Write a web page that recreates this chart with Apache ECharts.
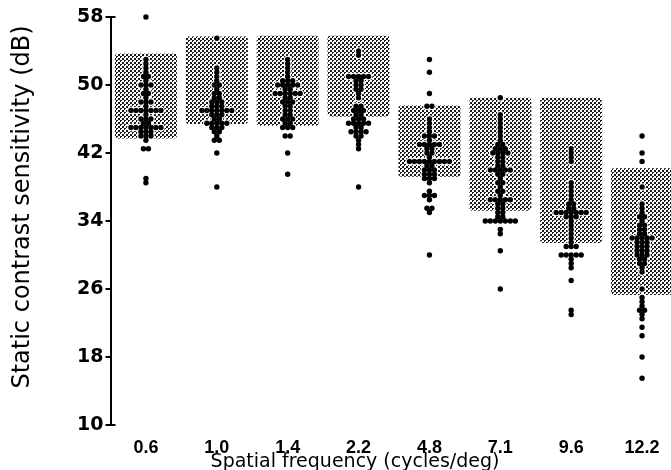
<!DOCTYPE html>
<html>
<head>
<meta charset="utf-8">
<script src="https://cdn.jsdelivr.net/npm/echarts@6/dist/echarts.min.js"></script>
<style>html,body{margin:0;padding:0;background:#fff}#c{width:671px;height:470px}</style>
</head>
<body>
<div id="c"></div>
<script>
// ---- data ----
const categories = ['0.6', '1.0', '1.4', '2.2', '4.8', '7.1', '9.6', '12.2'];
const yTicks = [10, 18, 26, 34, 42, 50, 58];
// shaded normal-range boxes (dB)
const boxLow  = [43.7, 45.4, 45.2, 46.3, 39.2, 35.2, 31.4, 25.3];
const boxHigh = [53.7, 55.7, 55.8, 55.8, 47.6, 48.5, 48.5, 40.2];
// individual sensitivities (dB), one entry per dot
const sf06 = [58, 53, 52.5, 52, 51.5, 51, 51, 50.5, 50, 50, 50, 49.5, 49, 49, 48.5, 48, 48, 48, 47.5,
  47, 47, 47, 47, 47, 47, 47, 46.5, 46, 46, 46, 45.5, 45.5, 45, 45, 45, 45, 45, 45, 45,
  44.5, 44.5, 44.5, 44, 44, 44, 43.5, 42.5, 42.5, 39, 38.5];
const sf10 = [55.5, 52, 51.5, 51, 50.5, 50, 50, 49.5, 49, 49, 48.5, 48.5, 48, 48, 48, 47.5, 47.5, 47.5,
  47, 47, 47, 47, 47, 47, 47, 46.5, 46.5, 46.5, 46, 46, 45.5, 45.5, 45.5, 45.5, 45.5, 45, 45, 45,
  44.5, 44.5, 44, 43.5, 43.5, 42, 38];
const sf14 = [53, 52.5, 52, 51.5, 51, 50.5, 50.5, 50.5, 50, 50, 50, 50, 50, 49.5, 49.5,
  49, 49, 49, 49, 49, 49, 48.5, 48.5, 48, 48, 48, 47.5, 47.5, 47, 47, 46.5, 46.5,
  46, 46, 46, 45.5, 45.5, 45, 45, 45, 44, 44, 42, 39.5];
const sf22 = [54, 53.5, 51, 51, 51, 51, 51, 50.5, 50.5, 50, 50, 49.5, 49.5, 49, 48.5,
  47.5, 47.5, 47, 47, 47, 46.5, 46.5, 46, 46, 46, 45.5, 45.5, 45.5, 45.5, 45.5,
  45, 45, 44.5, 44.5, 44.5, 44.5, 44, 44, 43.5, 43, 42.5, 38];
const sf48 = [53, 51.5, 49, 47.5, 47.5, 46, 45.5, 45, 44.5, 44, 44, 44, 43.5, 43, 43, 43, 43, 43,
  42.5, 42.5, 42, 42, 41.5, 41, 41, 41, 41, 41, 41, 41, 41, 41, 40.5, 40.5, 40, 40, 40,
  39.5, 39.5, 39.5, 39, 39, 39, 38.5, 37.5, 37, 37, 37, 36.5, 35.5, 35.5, 35, 30];
const sf71 = [48.5, 46.5, 46, 45.5, 45, 44.5, 44, 43.5, 43, 43, 42.5, 42.5, 42.5, 42, 42, 42, 42,
  41.5, 41.5, 41, 41, 40.5, 40.5, 40, 40, 40, 40, 40, 39.5, 39.5, 39, 38.5, 38.5, 38, 37.5, 37.5, 37,
  36.5, 36.5, 36.5, 36.5, 36.5, 36, 36, 35.5, 35.5, 35, 35, 34.5, 34.5, 34, 34, 34, 34, 34, 34, 34,
  33, 32.5, 30.5, 26];
const sf96 = [42.5, 42, 41.5, 41, 38.5, 38, 37.5, 37, 36.5, 36, 36, 35.5, 35.5, 35, 35, 35, 35, 35, 35, 35,
  34.5, 34.5, 34.5, 34, 33.5, 33, 32.5, 32, 31.5, 31, 31, 31, 30, 30, 30, 30, 30, 29.5, 29, 28.5, 27, 23.5, 23];
const sf122 = [44, 42, 41, 38, 36, 35.5, 35, 34.5, 34.5, 34, 33.5, 33.5, 33, 33, 32.5, 32.5,
  32, 32, 32, 32, 32, 31.5, 31.5, 31.5, 31, 31, 31, 30.5, 30.5, 30.5, 30, 30, 30, 29.5, 29.5, 29, 29,
  28.5, 28, 26, 25, 24.5, 24, 23.5, 23.5, 23, 22.5, 21.5, 20.5, 18, 15.5];
const allDots = [sf06, sf10, sf14, sf22, sf48, sf71, sf96, sf122];

// ---- build series data ----
const boxData = categories.map((c, i) => [i, boxLow[i], boxHigh[i]]);
const dotData = [];
allDots.forEach((vals, i) => {
  const counts = {};
  vals.forEach(v => { counts[v] = (counts[v] || 0) + 1; });
  Object.keys(counts).forEach(k => {
    const n = counts[k];
    for (let j = 0; j < n; j++) dotData.push([i, Number(k), j - (n - 1) / 2]);
  });
});

// stipple pattern
const pc = document.createElement('canvas');
pc.width = 4; pc.height = 4;
const pctx = pc.getContext('2d');
pctx.fillStyle = '#ffffff'; pctx.fillRect(0, 0, 4, 4);
pctx.fillStyle = '#1a1a1a';
[[0,0],[1,0],[0,1],[2,2],[3,2],[2,3],[3,3]].forEach(p => pctx.fillRect(p[0], p[1], 1, 1));
const stipple = { image: pc, repeat: 'repeat' };

const LAB = 'DejaVu Sans';
const chart = echarts.init(document.getElementById('c'), null, { renderer: 'canvas' });
chart.setOption({
  animation: false,
  backgroundColor: '#fff',
  grid: { left: 110.5, right: -6.5, top: 17, bottom: 45, outerBoundsMode: 'none', containLabel: false },
  xAxis: {
    type: 'category',
    data: categories,
    axisLine: { show: false },
    axisTick: { show: false },
    axisLabel: { color: '#000', fontFamily: 'Liberation Sans', fontWeight: 'bold', fontSize: 18, margin: 14 },
    name: 'Spatial frequency (cycles/deg)',
    nameLocation: 'middle',
    nameGap: 28,
    nameMoveOverlap: false,
    nameTextStyle: { color: '#000', fontFamily: LAB, fontSize: 19, padding: [0, 78, 0, 0] }
  },
  yAxis: [{
    type: 'value',
    min: yTicks[0], max: yTicks[yTicks.length - 1], interval: 8,
    axisLine: { show: true, lineStyle: { color: '#000', width: 2 } },
    axisTick: { show: true, length: 5, lineStyle: { color: '#000', width: 2 } },
    splitLine: { show: false },
    axisLabel: { color: '#000', fontFamily: LAB, fontWeight: 'bold', fontSize: 19, margin: 7 },
    name: 'Static contrast sensitivity (dB)',
    nameLocation: 'middle',
    nameGap: 76,
    nameMoveOverlap: false,
    nameTextStyle: { color: '#000', fontFamily: LAB, fontSize: 24, padding: [0, 0, 0, 28] }
  }, {
    type: 'value', position: 'left',
    min: 10, max: 58, interval: 48,
    axisLine: { show: false },
    axisTick: { show: true, inside: true, length: 5, lineStyle: { color: '#000', width: 2 } },
    axisLabel: { show: false },
    splitLine: { show: false }
  }],
  series: [{
    type: 'custom',
    data: boxData,
    renderItem: function (params, api) {
      const lo = api.coord([api.value(0), api.value(1)]);
      const hi = api.coord([api.value(0), api.value(2)]);
      const bw = api.size([1, 0])[0] * 0.875;
      return { type: 'rect', shape: { x: lo[0] - bw / 2, y: hi[1], width: bw, height: lo[1] - hi[1], r: 3 },
        style: { fill: stipple } };
    },
    silent: true
  }, {
    type: 'custom',
    data: dotData,
    renderItem: function (params, api) {
      const p = api.coord([api.value(0), api.value(1)]);
      return { type: 'circle', shape: { cx: p[0] + api.value(2) * 5, cy: p[1], r: 3.8 }, style: { fill: '#fff' } };
    },
    silent: true
  }, {
    type: 'custom',
    data: dotData,
    renderItem: function (params, api) {
      const p = api.coord([api.value(0), api.value(1)]);
      return { type: 'circle', shape: { cx: p[0] + api.value(2) * 5, cy: p[1], r: 2.7 }, style: { fill: '#000' } };
    },
    silent: true
  }]
});
</script>
</body>
</html>
